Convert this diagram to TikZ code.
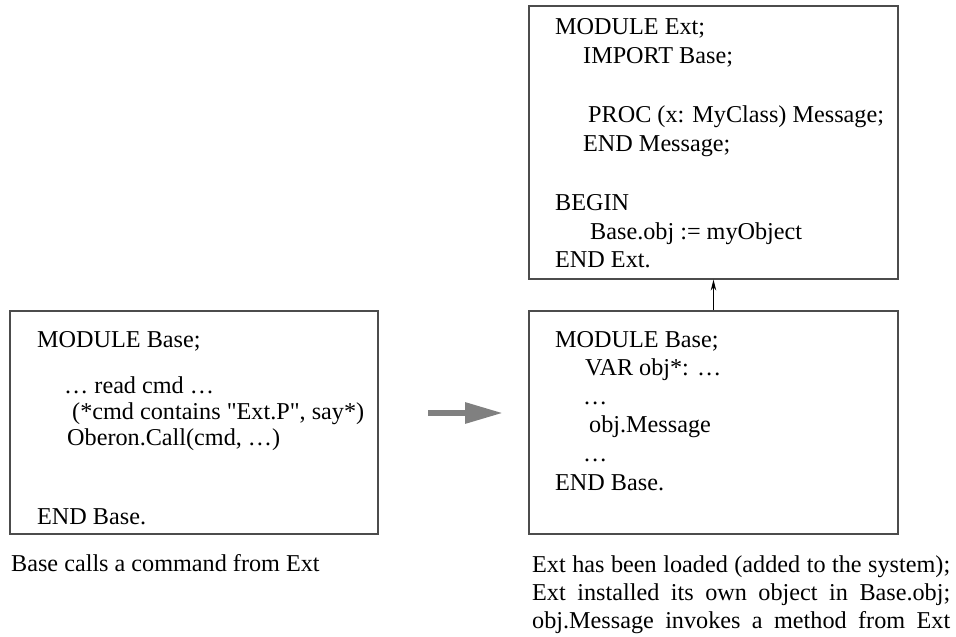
\documentclass[tikz,border=0pt]{standalone}
\usepackage{fontspec}
\newfontfamily\oberonfont{Liberation Serif}
\usepackage{tikz}
\usetikzlibrary{arrows.meta}
\tikzstyle{module}=[rectangle, draw=black!70
%,fill=black!5
,line width=1.2bp
,inner sep=0pt
]
\tikzstyle{code}=[anchor=base west, inner sep=0pt]
\tikzstyle{load} = [draw, line width=0.9bp, -{Stealth[length=11bp,width=5.5bp]}]
\tikzstyle{call} = [draw, black!50, line width=6bp, -{Triangle[length=38bp,width=20bp]}]

\begin{document}
\begin{tikzpicture}[x=1bp, y=-1bp, font=\fontsize{24.2bp}{29bp}\oberonfont]
    \useasboundingbox (0,0) rectangle (956,637);
    % Draw the three modules
    % First we draw the boxes
    \foreach \pos/\name/\bw/\bh in {{(194,422.5)/base/368/223}, {(713.5,142.5)/ext/369/273}, {(713.5,422.5)/loaded/369/223}}
        \node[module, minimum width=\bw bp, minimum height=\bh bp] (\name) at \pos {};

    % Then the lines of code inside them
    \foreach \pos/\txt [count=\i] in {{(37,347)/{MODULE Base;}}, {(64,393)/{… read cmd …}}, {(72,419)/{(*cmd contains "Ext.P", say*)}}, {(67,445)/{Oberon.Call(cmd, …)}}, {(37,524)/{END Base.}},
        {(555,35)/{MODULE Ext;}}, {(583,64)/{IMPORT Base;}}, {(588,123)/{PROC (x: MyClass) Message;}}, {(583,152)/{END Message;}}, {(555,211)/{BEGIN}}, {(590,240)/{Base.obj := myObject}}, {(555,268)/{END Ext.}},
        {(555,347)/{MODULE Base;}}, {(585,375)/{VAR obj*: …}}, {(583,404)/{…}}, {(589,432)/{obj.Message}}, {(583,461)/{…}}, {(555,490)/{END Base.}}}
        \node[code] (line\i) at \pos {\txt};

    % Captions below the boxes
    \node[code] (capbase) at (11,571) {Base calls a command from Ext};
    \foreach \pos/\txt [count=\i] in {{(532,572)/{Ext has been loaded (added to the system);}}, {(532,600)/{Ext installed its own object in Base.obj;}}, {(532,628)/{obj.Message invokes a method from Ext}}}
        \node[code] (capext\i) at \pos {\makebox[418bp][s]{\txt}};

    % Connect with arrows
    \coordinate (callfrom) at (428,413);
    \coordinate (callto) at (503,413);
    \path[call] (callfrom) -- (callto);
    \path[load] (loaded.north) -- (ext.south);
\end{tikzpicture}
\end{document}
